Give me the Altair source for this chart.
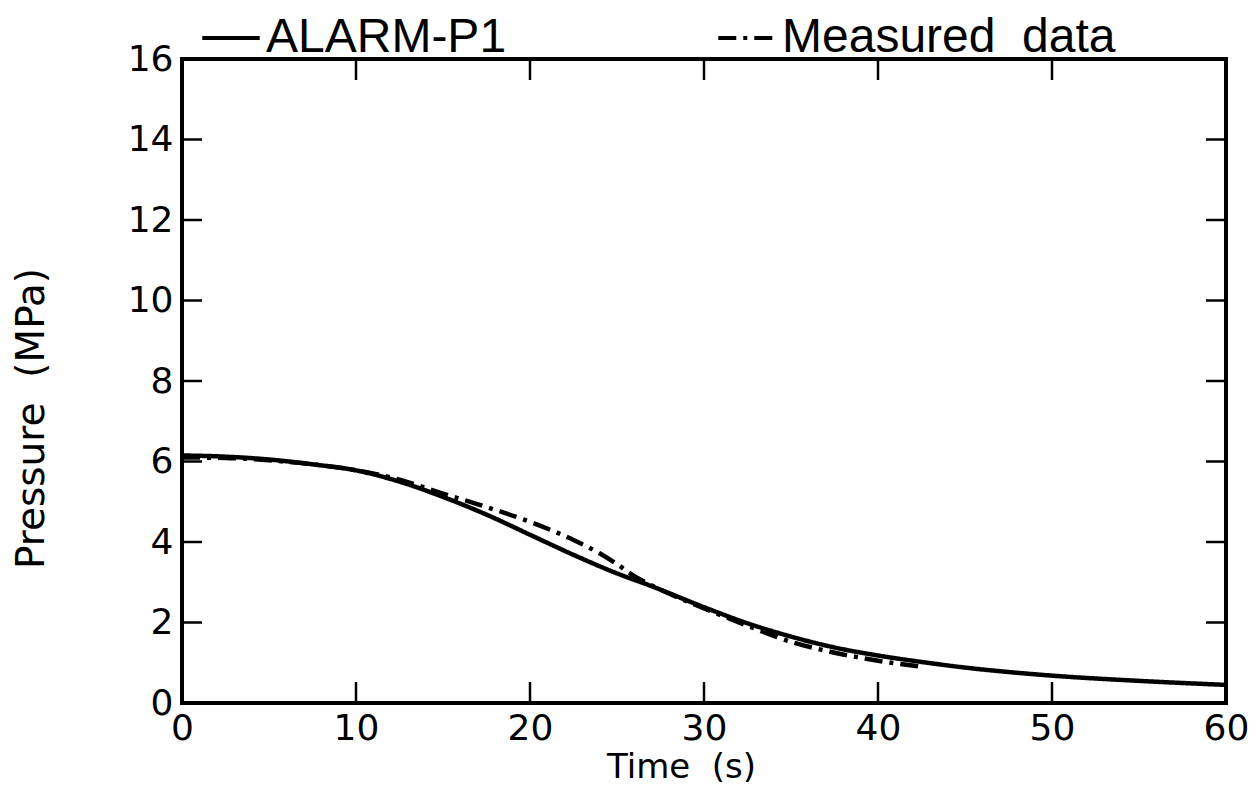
import altair as alt
import pandas as pd

# ALARM-P1 calculation (solid)
alarm_t = [0, 2.5, 5, 7.5, 10, 12.5, 15, 17.5, 20, 22.5, 25, 27, 30, 32.5, 35, 37.5, 40, 42.5, 45, 47.5, 50, 55, 60]
alarm_p = [6.15, 6.12, 6.05, 5.93, 5.78, 5.50, 5.12, 4.68, 4.18, 3.68, 3.22, 2.90, 2.38, 1.98, 1.65, 1.38, 1.18, 1.02, 0.88, 0.77, 0.68, 0.55, 0.45]

# Measured data (dash-dot)
meas_t = [0, 2.5, 5, 7.5, 10, 12.5, 15, 17.5, 20, 22.5, 24, 25, 26, 27, 30, 32.5, 35, 37.5, 40, 42.5]
meas_p = [6.10, 6.09, 6.03, 5.93, 5.78, 5.55, 5.20, 4.87, 4.50, 4.05, 3.72, 3.45, 3.15, 2.92, 2.35, 1.92, 1.52, 1.25, 1.05, 0.90]

series_names = ["ALARM-P1", "Measured data"]
x_ticks = [10, 20, 30, 40, 50]
y_ticks = [2, 4, 6, 8, 10, 12, 14]
x_labels = [0, 10, 20, 30, 40, 50, 60]
y_labels = [0, 2, 4, 6, 8, 10, 12, 14, 16]

df = pd.concat([
    pd.DataFrame({"t": alarm_t, "p": alarm_p, "series": series_names[0]}),
    pd.DataFrame({"t": meas_t, "p": meas_p, "series": series_names[1]}),
])

W, H = 1044, 644
FONT = "DejaVu Sans"
NB = "\u00a0"

xscale = alt.Scale(domain=[0, 60], nice=False, zero=False)
yscale = alt.Scale(domain=[0, 16], nice=False, zero=False)
xaxis = alt.Axis(values=x_labels, tickSize=0, domain=False, grid=False, labelFontSize=36,
                 labelPadding=8, labelFlush=False, labelOverlap=False,
                 title="Time" + NB * 2 + "(s)", titleFontSize=34, titleFontWeight="normal",
                 titlePadding=4, titleX=499, titleAlign="center",
                 labelFont=FONT, titleFont=FONT, labelColor="black", titleColor="black")
yaxis = alt.Axis(values=y_labels, tickSize=0, domain=False, grid=False, labelFontSize=36,
                 labelPadding=9, labelFlush=False, labelOverlap=False,
                 title="Pressure" + NB * 2 + "(MPa)", titleFontSize=39, titleFontWeight="normal",
                 titlePadding=76, titleY=359, titleAlign="center",
                 labelFont=FONT, titleFont=FONT, labelColor="black", titleColor="black")

X = alt.X("t:Q", scale=xscale, axis=xaxis)
Y = alt.Y("p:Q", scale=yscale, axis=yaxis)

legend = alt.Legend(orient="none", legendX=18, legendY=-52, direction="horizontal", title=None,
                    symbolType="stroke", symbolSize=3300, symbolStrokeWidth=4, symbolStrokeColor="black",
                    labelFontSize=48, labelFont="Liberation Sans", labelColor="black", labelLimit=0,
                    labelExpr="replace(datum.label, ' ', '\u00a0\u00a0')",
                    columnPadding=203, labelOffset=4, padding=0)

lines = alt.Chart(df).mark_line(strokeWidth=4.5, interpolate="monotone").encode(
    x=X, y=Y,
    color=alt.Color("series:N", scale=alt.Scale(domain=series_names, range=["black", "black"]), legend=legend),
    strokeDash=alt.StrokeDash("series:N", scale=alt.Scale(domain=series_names, range=[[1, 0], [18, 7, 4, 7]]), legend=legend),
)

xt = pd.DataFrame({"t": x_ticks})
yt = pd.DataFrame({"p": y_ticks})
bottom_ticks = alt.Chart(xt).mark_rule(color="black", strokeWidth=2.5).encode(x=X, y=alt.value(H), y2=alt.value(H - 21))
top_ticks = alt.Chart(xt).mark_rule(color="black", strokeWidth=2.5).encode(x=X, y=alt.value(0), y2=alt.value(21))
left_ticks = alt.Chart(yt).mark_rule(color="black", strokeWidth=2.5).encode(y=Y, x=alt.value(0), x2=alt.value(20))
right_ticks = alt.Chart(yt).mark_rule(color="black", strokeWidth=2.5).encode(y=Y, x=alt.value(W), x2=alt.value(W - 20))

chart = alt.layer(lines, bottom_ticks, top_ticks, left_ticks, right_ticks).properties(
    width=W, height=H,
    autosize=alt.AutoSizeParams(type="none"),
    padding={"left": 174, "top": 51, "right": 23, "bottom": 89},
).configure(background="white").configure_view(stroke="black", strokeWidth=4)

chart.save("out.html", embed_options={"renderer": "svg", "actions": False})
